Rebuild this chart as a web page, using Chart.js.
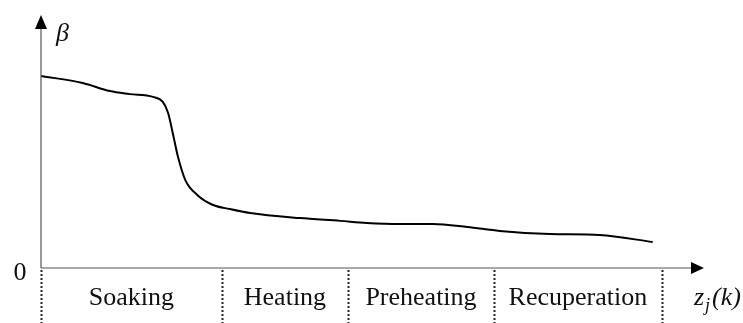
<!DOCTYPE html>
<html>
<head>
<meta charset="utf-8">
<script src="https://cdn.jsdelivr.net/npm/chart.js@4"></script>
<style>
  html, body { margin: 0; padding: 0; background: #fff; }
  #wrap { width: 743px; height: 323px; position: relative; }
</style>
</head>
<body>
<div id="wrap"><canvas id="c"></canvas></div>
<script>
// curve samples (x along furnace length, 0..100; beta relative, 0..1 = top of axis)
const zPos = [0, 6.3, 10.4, 13.4, 16.9, 18.4, 19.2, 19.9, 20.7, 21.8, 23.6, 26.0, 28.5,
              31.6, 39.1, 45.2, 49.2, 54.2, 59.2, 64.4, 69.3, 76.9, 84.4, 92.4];
const betaVals = [0.762, 0.734, 0.702, 0.690, 0.679, 0.659, 0.615, 0.536, 0.440, 0.349, 0.290, 0.250, 0.234,
                  0.218, 0.198, 0.187, 0.179, 0.175, 0.175, 0.163, 0.147, 0.135, 0.131, 0.103];

// furnace zones and their boundaries on the x axis
const zoneNames = ['Soaking', 'Heating', 'Preheating', 'Recuperation'];
const zoneBounds = [0, 27.3, 46.4, 68.4, 93.8];

const serif = '"Liberation Serif", "Times New Roman", serif';

// axes with arrows, zone separators, labels
const sketchAxes = {
  id: 'sketchAxes',
  afterDatasetsDraw(chart) {
    const { ctx, chartArea: a, scales: { x, y } } = chart;
    const x0 = x.getPixelForValue(0), y0 = y.getPixelForValue(0);
    ctx.save();

    // axis lines
    ctx.strokeStyle = '#555';
    ctx.lineWidth = 1.2;
    ctx.beginPath();
    ctx.moveTo(x0, y0); ctx.lineTo(x0, a.top + 10);
    ctx.moveTo(x0, y0); ctx.lineTo(a.right - 10, y0);
    ctx.stroke();

    // arrow heads
    ctx.fillStyle = '#000';
    ctx.beginPath();
    ctx.moveTo(x0, a.top - 1);
    ctx.lineTo(x0 - 6, a.top + 13);
    ctx.lineTo(x0 + 6, a.top + 13);
    ctx.closePath(); ctx.fill();
    ctx.beginPath();
    ctx.moveTo(a.right + 1, y0);
    ctx.lineTo(a.right - 12, y0 - 6);
    ctx.lineTo(a.right - 12, y0 + 6);
    ctx.closePath(); ctx.fill();

    // dotted zone separators
    ctx.strokeStyle = '#222';
    ctx.lineWidth = 2;
    ctx.setLineDash([2, 2]);
    zoneBounds.forEach(b => {
      const px = Math.round(x.getPixelForValue(b)) + 0.5;
      ctx.beginPath();
      ctx.moveTo(px, y0 + 2); ctx.lineTo(px, chart.height);
      ctx.stroke();
    });
    ctx.setLineDash([]);

    // zone names
    ctx.fillStyle = '#111';
    ctx.font = '26px ' + serif;
    ctx.textAlign = 'center';
    ctx.textBaseline = 'alphabetic';
    zoneNames.forEach((n, i) => {
      const cx = (x.getPixelForValue(zoneBounds[i]) + x.getPixelForValue(zoneBounds[i + 1])) / 2;
      ctx.fillText(n, cx, y0 + 37);
    });

    // origin and axis titles
    ctx.fillText('0', 20, y0 + 12);
    ctx.textAlign = 'left';
    ctx.font = 'italic 26px ' + serif;
    ctx.fillText('\u03B2', x0 + 15, a.top + 25);
    ctx.fillText('z', 694, y0 + 37);
    ctx.font = 'italic 18px ' + serif;
    ctx.fillText('j', 705, y0 + 43);
    ctx.font = 'italic 26px ' + serif;
    ctx.fillText('(k)', 712, y0 + 37);
    ctx.restore();
  }
};

new Chart(document.getElementById('c'), {
  type: 'line',
  data: {
    datasets: [{
      data: zPos.map((v, i) => ({ x: v, y: betaVals[i] })),
      borderColor: '#000',
      borderWidth: 2,
      pointRadius: 0,
      fill: false,
      cubicInterpolationMode: 'monotone'
    }]
  },
  options: {
    responsive: true,
    maintainAspectRatio: false,
    animation: false,
    layout: { padding: { left: 41, right: 40, top: 16, bottom: 55 } },
    plugins: { legend: { display: false }, tooltip: { enabled: false } },
    scales: {
      x: { type: 'linear', min: 0, max: 100, display: false },
      y: { min: 0, max: 1, display: false }
    }
  },
  plugins: [sketchAxes]
});
</script>
</body>
</html>
